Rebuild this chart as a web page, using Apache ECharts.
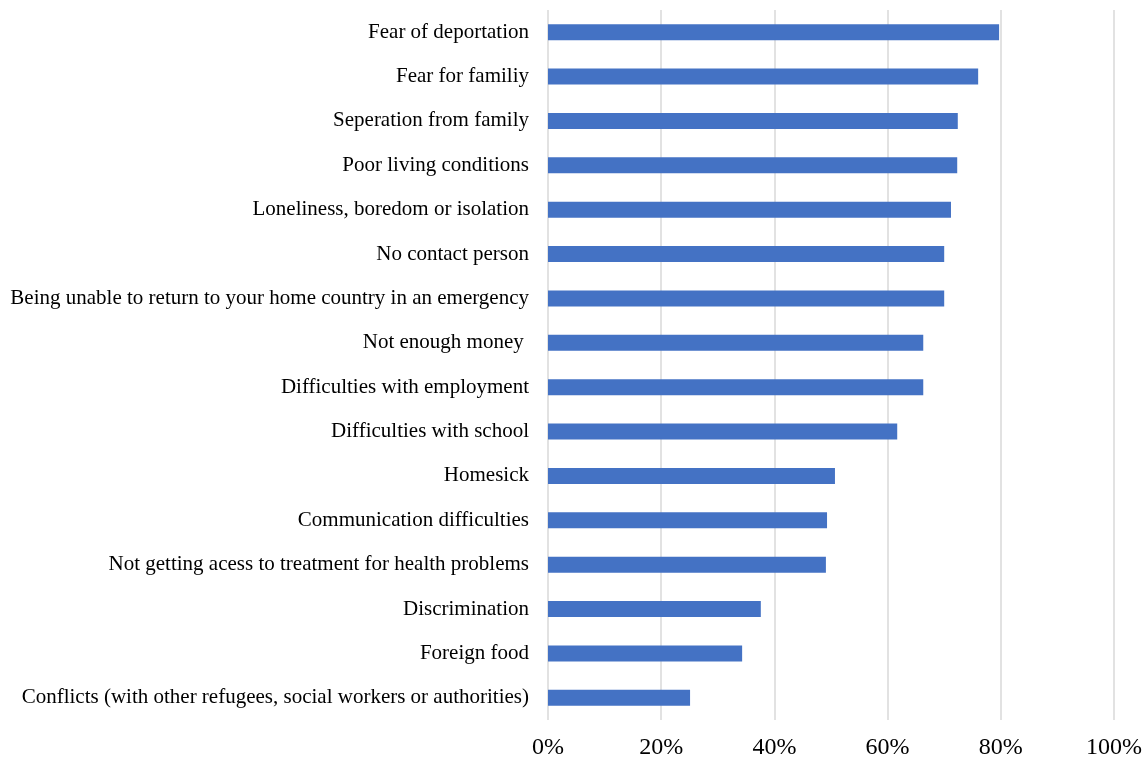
<!DOCTYPE html>
<html lang="en" style="height: 100%">
<head>
    <meta charset="UTF-8">
    <title>Stress factors</title>
    <script src="https://cdn.jsdelivr.net/npm/echarts@6/dist/echarts.min.js"></script>
</head>
<body style="height: 100%; margin: 0; background: #fff">
<div id="main" style="width: 1148px; height: 760px"></div>
<script>
    var categories = [
        'Fear of deportation',
        'Fear for familiy',
        'Seperation from family',
        'Poor living conditions',
        'Loneliness, boredom or isolation',
        'No contact person',
        'Being unable to return to your home country in an emergency',
        'Not enough money ',
        'Difficulties with employment',
        'Difficulties with school',
        'Homesick',
        'Communication difficulties',
        'Not getting acess to treatment for health problems',
        'Discrimination',
        'Foreign food',
        'Conflicts (with other refugees, social workers or authorities)'
    ];
    var values = [79.7, 76.0, 72.4, 72.3, 71.2, 70.0, 70.0, 66.3, 66.3, 61.7, 50.7, 49.3, 49.1, 37.6, 34.3, 25.1];

    var myChart = echarts.init(document.getElementById('main'));
    myChart.setOption({
        animation: false,
        textStyle: {fontFamily: 'Liberation Serif'},
        grid: {left: 548, right: 34, top: 10, bottom: 40, containLabel: false},
        xAxis: {
            type: 'value',
            min: 0,
            max: 100,
            interval: 20,
            axisLine: {show: false},
            axisTick: {show: false},
            axisLabel: {
                formatter: '{value}%',
                fontSize: 24,
                color: '#000',
                margin: 16,
                fontFamily: 'Liberation Serif'
            },
            splitLine: {lineStyle: {color: '#d9d9d9', width: 1.5}}
        },
        yAxis: {
            type: 'category',
            inverse: true,
            data: categories,
            axisLine: {show: false},
            axisTick: {show: false},
            axisLabel: {
                fontSize: 21,
                color: '#000',
                margin: 19,
                fontFamily: 'Liberation Serif'
            }
        },
        series: [{
            type: 'bar',
            data: values,
            barWidth: 16,
            itemStyle: {color: '#4472C4'}
        }]
    });
</script>
</body>
</html>
